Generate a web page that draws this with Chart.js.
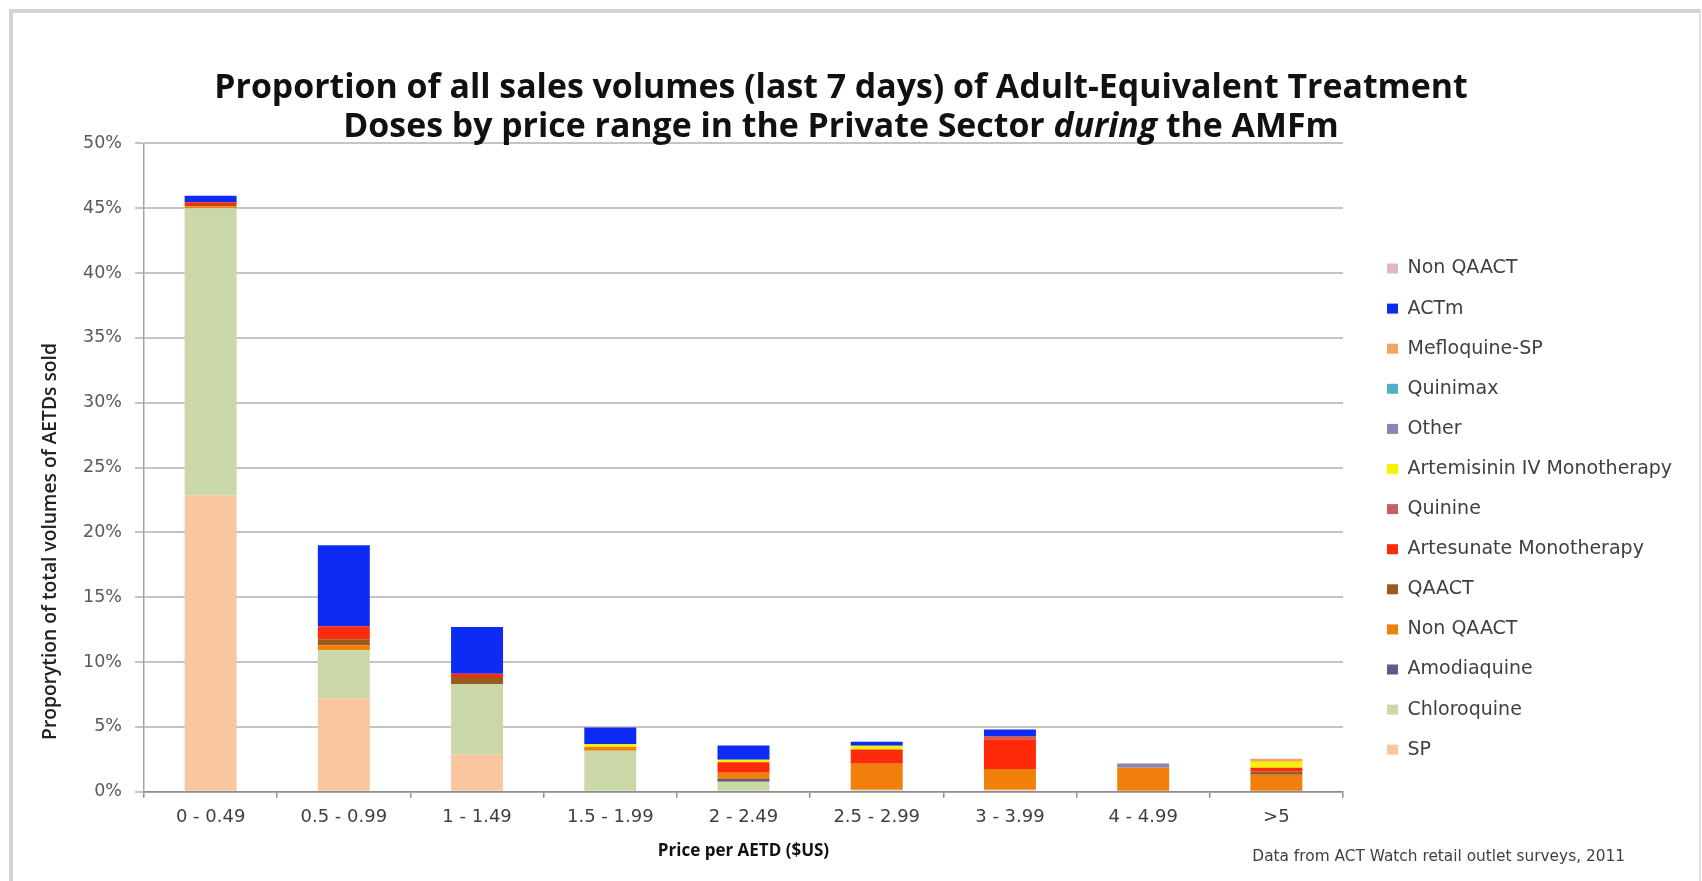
<!DOCTYPE html>
<html><head><meta charset="utf-8">
<style>
html,body{margin:0;padding:0;background:#fff;}
#wrap{position:relative;width:1702px;height:881px;overflow:hidden;background:#fff;}
#frame{position:absolute;left:9px;top:9px;width:1686px;height:900px;border-top:4px solid #d2d2d2;border-left:4px solid #d2d2d2;border-right:2px solid #e2e2e2;}
canvas{position:absolute;left:0;top:0;}
</style>
<script src="https://cdn.jsdelivr.net/npm/chart.js@4.4.1/dist/chart.umd.min.js"></script>
</head><body>
<div id="wrap"><div id="frame"></div><canvas id="c" width="1702" height="881"></canvas></div>
<script>
// ---------- DATA ----------
const categories = ['0 - 0.49','0.5 - 0.99','1 - 1.49','1.5 - 1.99','2 - 2.49','2.5 - 2.99','3 - 3.99','4 - 4.99','>5'];
const sp            = [22.85, 7.2, 2.85, 0,    0,    0,    0.15, 0,    0];
const chloroquine   = [22.15, 3.7, 5.45, 3.15, 0.77, 0.15, 0,    0,    0];
const amodiaquine   = [0,     0,   0,    0,    0.2,  0,    0,    0,    0];
const nonQaact      = [0.15,  0.4, 0,    0.3,  0.5,  2.0,  1.6,  1.85, 1.3];
const qaact         = [0.1,   0.45,0.55, 0,    0,    0,    0,    0,    0.25];
const artesunate    = [0.2,   1.0, 0.25, 0,    0.8,  1.1,  2.3,  0,    0.3];
const quinine       = [0,     0,   0,    0,    0,    0,    0.25, 0,    0];
const artemisininIV = [0,     0,   0,    0.2,  0.2,  0.3,  0,    0,    0.45];
const other         = [0,     0,   0,    0,    0,    0,    0,    0.33, 0];
const quinimax      = [0,     0,   0,    0,    0,    0,    0,    0,    0];
const mefloquineSP  = [0,     0,   0,    0,    0,    0,    0,    0,    0.25];
const actm          = [0.5,   6.25,3.6,  1.3,  1.1,  0.3,  0.5,  0,    0];
const nonQaactTop   = [0,     0,   0,    0,    0,    0,    0,    0,    0];

const seriesNames  = ['SP','Chloroquine','Amodiaquine','Non QAACT','QAACT','Artesunate Monotherapy','Quinine','Artemisinin IV Monotherapy','Other','Quinimax','Mefloquine-SP','ACTm','Non QAACT'];
const seriesValues = [sp, chloroquine, amodiaquine, nonQaact, qaact, artesunate, quinine, artemisininIV, other, quinimax, mefloquineSP, actm, nonQaactTop];
const seriesColors = ['#fac6a0','#cad8a7','#5e5a8a','#f07f0c','#9a5a1e','#ff2a0a','#c9605e','#f6f200','#8c84b6','#4fb0c8','#f2a562','#0c2cf4','#e2b4c4'];

const yTickValues = [0,5,10,15,20,25,30,35,40,45,50];
const titleLine1 = 'Proportion of all sales volumes (last 7 days) of Adult-Equivalent Treatment';
const titleLine2 = ['Doses by price range in the Private Sector ', 'during', ' the AMFm'];
const yTitle = 'Proporytion of total volumes of AETDs sold';
const xTitle = 'Price per AETD ($US)';
const caption = 'Data from ACT Watch retail outlet surveys, 2011';

// ---------- LAYOUT ----------
const W = 1702, H = 881;
const AREA = {left:144, right:1343, top:143.3, bottom:791.7};
const DV = "'DejaVu Sans', sans-serif";
const OS = "'Open Sans', sans-serif";
const LEG_FONT = 19, LEG_BOX_W = 11, LEG_BOX_H = 10, LEG_STEP = 40.1;
const LEG_PAD = LEG_STEP - LEG_FONT;
const mctx = document.createElement('canvas').getContext('2d');
mctx.font = LEG_FONT + 'px ' + DV;
const maxText = Math.max(...seriesNames.map(n => mctx.measureText(n).width));
const legendWidth = LEG_PAD + LEG_BOX_W + LEG_FONT / 2 + maxText + 10;
const padRight = Math.max(0, W - AREA.right - legendWidth);

function fitSize(ctx, text, font, base, target) {
  ctx.font = font(base);
  return base * target / ctx.measureText(text).width;
}

const textPlugin = {
  id: 'texts',
  afterLayout(chart) {
    const lg = chart.legend;
    if (lg) {
      const dx = 1387 - LEG_PAD - lg.left;
      const dy = 268.5 - LEG_FONT / 2 - LEG_PAD - lg.top;
      lg.left += dx; lg.right += dx;
      lg.top += dy;
    }
  },
  afterDraw(chart) {
    const ctx = chart.ctx;
    ctx.save();
    ctx.textBaseline = 'middle';
    ctx.fillStyle = '#111';
    // title
    const size = fitSize(ctx, titleLine1, s => 'bold ' + s + 'px ' + OS, 29, 1254);
    const cx = 841;
    ctx.font = 'bold ' + size + 'px ' + OS;
    ctx.textAlign = 'center';
    ctx.fillText(titleLine1, cx, 88);
    const fonts = ['bold ' + size + 'px ' + OS, 'italic bold ' + size + 'px ' + OS, 'bold ' + size + 'px ' + OS];
    let total = 0; const widths = [];
    titleLine2.forEach((s, i) => { ctx.font = fonts[i]; const w = ctx.measureText(s).width; widths.push(w); total += w; });
    let x = cx - total / 2;
    ctx.textAlign = 'left';
    titleLine2.forEach((s, i) => { ctx.font = fonts[i]; ctx.fillText(s, x, 127); x += widths[i]; });
    // y axis title
    const ys = fitSize(ctx, yTitle, s => '600 ' + s + 'px ' + OS, 16, 397);
    ctx.save();
    ctx.translate(51, 541.5);
    ctx.rotate(-Math.PI / 2);
    ctx.textAlign = 'center';
    ctx.fillStyle = '#222';
    ctx.font = '600 ' + ys + 'px ' + OS;
    ctx.fillText(yTitle, 0, 0);
    ctx.restore();
    // caption
    const cs = fitSize(ctx, caption, s => s + 'px ' + DV, 13, 373);
    ctx.textAlign = 'right';
    ctx.fillStyle = '#404040';
    ctx.font = cs + 'px ' + DV;
    ctx.fillText(caption, 1625, 857);
    ctx.restore();
  }
};

new Chart(document.getElementById('c'), {
  type: 'bar',
  data: {
    labels: categories,
    datasets: seriesNames.map((name, i) => ({
      label: name,
      data: seriesValues[i],
      backgroundColor: seriesColors[i],
      borderWidth: 0,
      barPercentage: 0.39,
      categoryPercentage: 1.0
    }))
  },
  options: {
    responsive: false,
    animation: false,
    devicePixelRatio: 1,
    layout: { padding: { left: 0, top: AREA.top, right: padRight, bottom: 0 } },
    plugins: {
      title: { display: false },
      tooltip: { enabled: false },
      legend: {
        display: true,
        position: 'right',
        align: 'start',
        reverse: true,
        labels: {
          font: { family: DV, size: LEG_FONT },
          color: '#404040',
          boxWidth: LEG_BOX_W,
          boxHeight: LEG_BOX_H,
          padding: LEG_PAD
        }
      }
    },
    scales: {
      x: {
        stacked: true,
        offset: true,
        grid: { drawOnChartArea: false, drawTicks: true, tickLength: 6, color: '#8e8e8e', lineWidth: 1.5, offset: true },
        border: { display: true, color: '#8e8e8e', width: 1.5 },
        ticks: { font: { family: DV, size: 18 }, color: '#404040', padding: 9, maxRotation: 0, autoSkip: false },
        title: { display: true, text: xTitle, font: { family: OS, size: 17, weight: 'bold' }, color: '#111', padding: { top: 0, bottom: 20 } },
        afterFit: s => { s.height = H - AREA.bottom; }
      },
      y: {
        stacked: true,
        min: 0, max: 50,
        afterBuildTicks: s => { s.ticks = yTickValues.map(v => ({ value: v })); },
        grid: { color: '#c4c4c4', lineWidth: 2, tickLength: 9, drawTicks: true },
        border: { display: true, color: '#a4a4a4', width: 1.5 },
        ticks: { font: { family: DV, size: 17.5 }, color: '#595959', padding: 13, callback: v => v + '%' },
        afterFit: s => { s.width = AREA.left; }
      }
    }
  },
  plugins: [textPlugin]
});
</script>
</body></html>
